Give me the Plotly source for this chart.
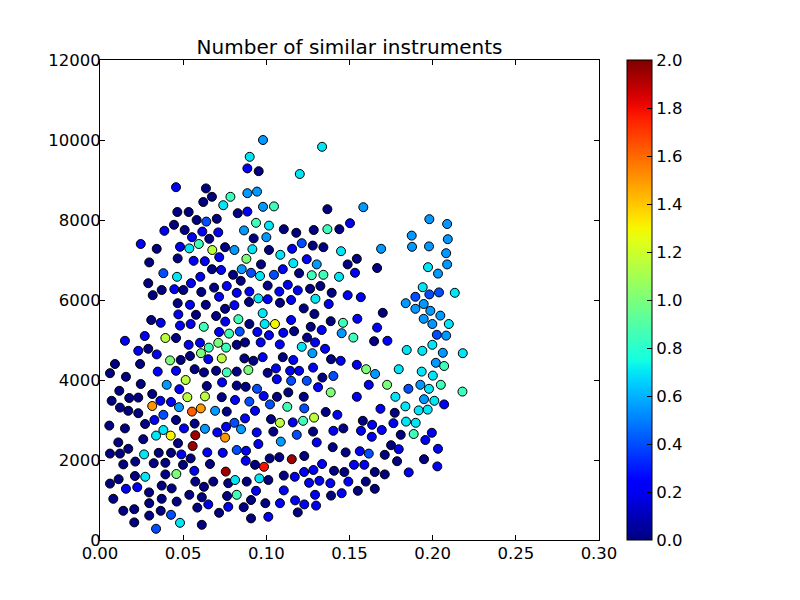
import numpy as np
import plotly.graph_objects as go

# colour levels read from the jet colormap
n, b, r, l, c, a, g, yg, yl, o, ro, rd, dr = 0.0, 0.2, 0.4, 0.55, 0.7, 0.85, 1.0, 1.15, 1.3, 1.5, 1.62, 1.78, 1.95

x_vals = [
 0.0457,0.0637,0.0673,0.0621,0.0741,0.0465,0.0533,0.0581,0.0639,0.0702,0.0445,0.0387,0.0509,0.0615,0.0711,0.0553,0.0657,
 0.0245,0.0341,0.0481,0.0537,0.0594,0.0675,0.0752,0.0717,0.0467,0.0563,0.0630,0.0296,0.0673,0.0728,0.0381,0.0463,0.0603,
 0.0290,0.0371,0.0447,0.0501,0.0547,0.0609,0.0686,0.0762,0.0317,0.0716,0.0467,0.0541,0.0636,0.0752,0.0471,0.0577,0.0698,
 0.0308,0.0365,0.0481,0.0545,0.0624,0.0753,0.0269,0.0150,0.0393,0.0457,0.0533,0.0601,0.0716,0.0776,0.0711,
 0.0230,0.0290,0.0341,0.0654,0.0758,0.0607,0.0541,0.0651,0.0732,0.0421,0.0485,0.0090,0.0241,0.0060,0.0156,0.0347,0.0457,
 0.0569,0.0625,0.0698,0.0762,0.0515,0.0245,0.0401,0.0477,0.0642,0.0734,0.0116,0.0314,0.0525,0.0631,0.0732,0.0070,0.0176,
 0.0230,0.0363,0.0427,0.0314,0.0475,0.0553,0.0606,0.0692,0.0762,0.0120,0.0170,0.0230,0.0381,0.0327,0.0457,0.0271,0.0056,
 0.0150,0.0381,0.0505,0.0569,0.0631,0.0705,0.0758,0.0337,0.0425,0.0573,0.0752,0.0260,0.0110,0.0469,0.0557,0.0170,0.0060,
 0.0120,0.0265,0.0353,0.0427,0.0489,0.0545,0.0645,0.0738,0.0140,0.0212,0.0323,0.0393,0.0499,0.0661,0.0567,0.0756,0.0210,
 0.0272,0.0393,0.0459,0.0060,0.0112,0.0156,0.0224,0.0295,0.0371,0.0431,0.0573,0.0625,0.0681,0.0771,0.0080,0.0296,0.0371,
 0.0461,0.0537,0.0612,0.0651,0.0771,0.0140,0.0206,0.0365,0.0427,0.0585,0.0716,0.0206,0.0296,0.0481,0.0612,0.0337,
 0.0980,0.1335,0.0900,0.0886,0.0954,0.1201,0.0784,0.0886,0.0944,0.0980,0.1046,0.0828,0.0886,0.1367,0.0938,0.1016,0.1105,
 0.1180,0.1285,0.1367,0.1439,0.1503,0.0866,0.0924,0.1000,0.0808,0.0916,0.1016,0.1084,0.1155,0.1213,0.1279,0.1343,0.1449,
 0.0880,0.0968,0.1243,0.1162,0.1303,0.1489,0.0852,0.0800,0.0908,0.0962,0.1046,0.1099,0.1197,0.1273,0.1343,0.1437,0.0846,
 0.1008,0.1129,0.1263,0.1325,0.1189,0.1078,0.0822,0.0898,0.1393,0.1489,0.0952,0.1008,0.0896,0.1082,0.1149,0.1295,0.1375,
 0.0808,0.1225,0.0978,0.1289,0.0832,0.0898,0.0990,0.1052,0.1149,0.1267,0.1387,0.1461,0.0840,0.0946,0.1016,0.1102,0.1167,
 0.1333,0.1453,
 0.0822,0.0872,0.0966,0.1081,0.1213,0.1245,0.1293,0.1277,0.1353,0.0868,0.0922,0.0978,0.1099,0.1162,0.1389,0.1447,0.0822,
 0.0892,0.1008,0.1058,0.1143,0.1197,0.1281,0.1063,0.1149,0.1243,0.1337,0.1403,0.0822,0.0876,0.0944,0.0984,0.1064,0.1132,
 0.1225,0.1311,0.1387,0.0812,0.0898,0.1022,0.1126,0.1228,0.0932,0.0872,0.1028,0.1082,0.1159,0.1221,0.1287,0.1357,0.1427,
 0.0808,0.0848,0.0942,0.1042,0.1183,0.1281,0.1403,0.1463,0.0952,0.1087,0.1303,0.1399,0.1477,0.0822,0.0878,0.1020,0.1078,
 0.1153,0.1228,0.0876,0.0932,0.0986,0.1335,0.0812,0.0882,0.0958,0.1012,0.1105,0.1171,0.1227,0.1283,0.1407,0.1469,0.1257,
 0.1319,0.1385,0.1493,0.0822,0.0938,0.1105,0.1293,0.1389,0.1453,0.0764,0.0864,0.0908,0.0994,0.1082,0.1173,0.1228,0.1299,
 0.1189,0.0908,0.1012,
 0.1583,0.1980,0.2087,0.1874,0.2091,0.1690,0.1876,0.1978,0.2081,0.1544,0.1533,0.1666,0.1972,0.2032,0.2087,0.1568,0.1940,
 0.1980,0.2038,0.2133,0.1896,0.1838,0.1896,0.1946,0.1986,0.1700,0.1547,0.1946,0.2046,0.1666,0.1998,0.2097,0.1523,0.1648,
 0.1728,0.2025,0.2081,0.1844,0.1938,0.1998,0.2061,0.2181,
 0.1544,0.1600,0.1654,0.1796,0.1934,0.2019,0.2069,0.2001,0.1616,0.1726,0.1854,0.1926,0.1978,0.2049,0.2179,0.1544,0.1776,
 0.1948,0.2010,0.2069,0.1686,0.1772,0.1836,0.1916,0.1970,0.1580,0.1636,0.1764,0.1840,0.1898,0.1569,0.1634,0.1694,0.1808,
 0.1886,0.1995,0.1956,0.1750,0.1796,0.2032,0.1562,0.1616,0.1712,0.1786,0.1948,0.1527,0.1589,0.2028,0.1652,0.1712,0.1856,
 0.1598,0.1550,0.1652,
]

y_vals = [
 8820,8790,8580,8450,8370,8200,8200,8000,7960,8030,7880,7730,7750,7710,7690,7570,7530,
 7400,7280,7330,7290,7400,7250,7320,7070,7040,6980,6970,6940,6770,6750,6670,6580,6580,
 6420,6250,6270,6250,6420,6200,6310,6350,6120,6080,5920,5880,5880,5780,5640,5630,5600,
 5500,5430,5360,5400,5330,5460,5100,4980,5050,5050,4880,4930,5200,5160,4930,
 4730,4780,4640,4810,4810,4670,4600,4520,4540,4490,4500,4400,4400,4170,4080,4210,4230,
 4270,4190,4230,4190,4000,3900,3880,3770,3850,3940,3730,3650,3570,3590,3570,3480,3550,
 3560,3480,3450,3350,3320,3210,3290,3230,3210,3310,3230,3170,3130,3000,3000,2900,2860,
 2790,2750,2790,2910,2780,2690,2830,2610,2610,2620,2560,2520,2440,2420,2350,2280,2160,
 2160,2140,2180,2180,2140,2040,2190,2180,1890,1960,1920,1930,1880,1900,1730,1710,1600,
 1580,1640,1650,1410,1520,1280,1320,1190,1360,1290,1460,1330,1460,1420,1030,920,1030,
 960,1130,1070,890,830,730,770,730,630,810,680,440,610,430,380,280,
 10000,9830,9580,9290,9220,9150,8580,8670,8710,8330,8340,8170,8210,8270,7930,7860,7770,
 7680,7750,7770,7770,7920,7740,7540,7570,7250,7270,7250,7130,7280,7420,7360,7320,7220,
 7030,6890,7020,6920,6890,6890,6770,6630,6680,6600,6630,6770,6670,6620,6630,6580,6480,
 6360,6380,6280,6350,6240,6210,6180,6210,6180,6120,6040,6020,5950,5930,6000,6030,5900,
 5870,5790,5670,5650,5520,5400,5400,5400,5500,5330,5470,5430,5210,5200,5120,5180,5220,
 5250,5170,
 4880,4940,4940,4890,4830,5060,4940,4670,4780,4540,4480,4570,4570,4500,4520,4480,4210,
 4250,4180,4290,4230,4230,4310,4020,3980,3980,4060,4100,3860,3830,3780,3600,3580,3690,
 3580,3820,3690,3500,3460,3390,3330,3290,3230,3040,3020,2930,2940,2980,3060,3200,3130,
 2930,2770,2690,2710,2630,2710,2730,2790,2400,2460,2440,2320,2190,2250,2230,2040,2070,
 2020,2100,1980,1880,1830,1900,1500,1460,1540,1500,1610,1580,1700,1750,1730,1700,1430,
 1480,1420,1460,1130,1230,1240,1130,1110,1170,1100,820,1000,920,920,990,890,860,
 690,540,580,
 8320,8020,7900,7610,7520,7280,7330,7340,7170,7030,6680,6800,6820,6660,6890,6070,6320,
 6140,6190,6180,6080,5920,5780,5900,5730,5680,5530,5530,5610,5310,5400,5400,5060,4970,
 4980,5130,5110,4750,4730,4880,4680,4670,
 4380,4270,4150,4270,4210,4430,4350,4110,3880,3880,3780,3880,3780,3880,3710,3580,3580,
 3520,3480,3390,3280,3180,3340,3240,3260,2980,2880,2920,2960,2930,2730,2580,2750,2630,
 2650,2680,2500,2370,2270,2280,2220,2160,2130,1970,2020,1880,1880,1840,1700,1640,1690,
 1460,1230,1280,
]

c_vals = [
 b,n,n,n,c,n,n,n,r,n,n,b,n,b,b,b,n,
 b,n,b,c,a,yg,n,b,n,b,b,n,n,b,r,c,b,
 n,n,b,n,b,n,n,b,n,b,n,b,n,n,b,n,n,
 n,b,b,b,a,b,b,b,yg,n,b,b,b,a,g,
 b,n,b,a,a,g,n,b,yg,g,n,n,n,n,n,b,b,
 n,n,n,a,yg,n,l,b,n,b,n,n,yg,yg,n,n,n,
 n,b,b,o,l,ro,o,l,n,n,n,n,r,b,n,n,n,
 n,c,b,n,l,b,b,c,yl,dr,o,n,n,n,dr,n,n,
 n,c,n,n,b,n,b,b,n,n,n,n,n,n,b,dr,n,
 c,n,g,n,n,b,b,n,n,n,n,n,n,n,n,n,n,
 n,n,n,b,b,n,n,n,r,n,n,n,n,c,n,r,
 l,c,c,b,n,c,a,l,l,l,a,n,b,n,a,c,n,
 n,n,a,n,b,l,n,l,l,c,n,c,b,r,n,n,c,
 g,n,b,c,l,n,l,n,r,c,r,b,n,a,a,c,n,
 n,b,n,n,b,b,b,b,n,b,c,b,n,n,b,c,b,
 b,n,c,n,a,n,c,yl,b,n,n,a,r,b,b,b,n,
 b,l,
 n,n,b,b,c,n,b,l,b,n,n,b,n,b,n,b,n,
 g,n,b,b,b,b,b,r,r,n,r,n,n,r,b,n,n,
 n,b,g,b,r,r,a,r,b,b,n,yg,b,a,yg,n,b,
 r,l,b,n,r,n,b,n,b,l,b,n,n,r,b,n,n,
 dr,n,b,n,rd,b,c,n,c,n,n,b,b,b,n,n,b,
 b,b,b,a,b,b,b,n,b,n,n,n,n,b,b,b,b,
 n,n,b,
 l,l,l,l,l,l,l,l,l,n,b,n,c,l,l,b,c,
 r,r,c,r,l,l,l,l,n,b,l,l,b,l,c,a,n,
 b,r,l,c,c,c,l,c,
 b,g,l,c,c,l,a,c,b,g,r,l,c,a,a,b,c,
 l,c,b,b,n,c,c,c,n,b,b,c,c,b,b,b,n,
 a,b,b,n,b,b,b,r,n,n,n,b,b,b,n,n,b,
 n,n,n,
]

# matplotlib 'jet' colormap segment data
pos = np.linspace(0, 1, 41)
red = np.interp(pos, [0, 0.35, 0.66, 0.89, 1], [0, 0, 1, 1, 0.5])
grn = np.interp(pos, [0, 0.125, 0.375, 0.64, 0.91, 1], [0, 0, 1, 1, 0, 0])
blu = np.interp(pos, [0, 0.11, 0.34, 0.65, 1], [0.5, 1, 1, 0, 0])
jet = [[float(p), f"rgb({int(round(rr*255))},{int(round(gg*255))},{int(round(bb*255))})"]
       for p, rr, gg, bb in zip(pos, red, grn, blu)]

FONT = "DejaVu Sans"
W, H = 792, 592          # page adds an 8px body margin
L, T, R, B = 92, 52, 201, 60

fig = go.Figure(go.Scatter(
    x=x_vals, y=y_vals, mode="markers",
    marker=dict(
        size=9, color=c_vals, colorscale=jet, cmin=0, cmax=2,
        line=dict(color="black", width=1),
        colorbar=dict(
            thickness=25, len=1.0, lenmode="fraction", y=0.5, yanchor="middle",
            x=1.056, xanchor="left", xpad=0, ypad=0,
            outlinecolor="black", outlinewidth=1,
            tickmode="array", tickvals=[i / 5 for i in range(11)],
            ticktext=[f"{i/5:.1f}" for i in range(11)],
            ticks="inside", ticklen=5, tickcolor="black",
            tickfont=dict(family=FONT, size=16.5, color="black"),
        ),
    ),
    showlegend=False,
))

axis_common = dict(
    showgrid=False, zeroline=False, showline=True, linecolor="black", linewidth=1,
    mirror="ticks", ticks="inside", ticklen=5, tickcolor="black",
    tickfont=dict(family=FONT, size=16.5, color="black"),
)

fig.update_layout(
    width=W, height=H,
    margin=dict(l=L, r=R, t=T, b=B),
    paper_bgcolor="white", plot_bgcolor="white",
    title=dict(text="Number of similar instruments", x=(L + (W - R)) / 2 / W, xanchor="center",
               y=1 - 39 / H, yanchor="middle",
               font=dict(family=FONT, size=20, color="black")),
    xaxis=dict(range=[0, 0.3], tickmode="array", tickvals=[0, 0.05, 0.1, 0.15, 0.2, 0.25, 0.3],
               ticktext=["0.00", "0.05", "0.10", "0.15", "0.20", "0.25", "0.30"],
               ticklabelstandoff=-2, **axis_common),
    yaxis=dict(range=[0, 12000], tickmode="array", tickvals=list(range(0, 12001, 2000)),
               ticktext=[str(v) for v in range(0, 12001, 2000)],
               ticklabelstandoff=-5, **axis_common),
)

fig.write_html("out.html")
